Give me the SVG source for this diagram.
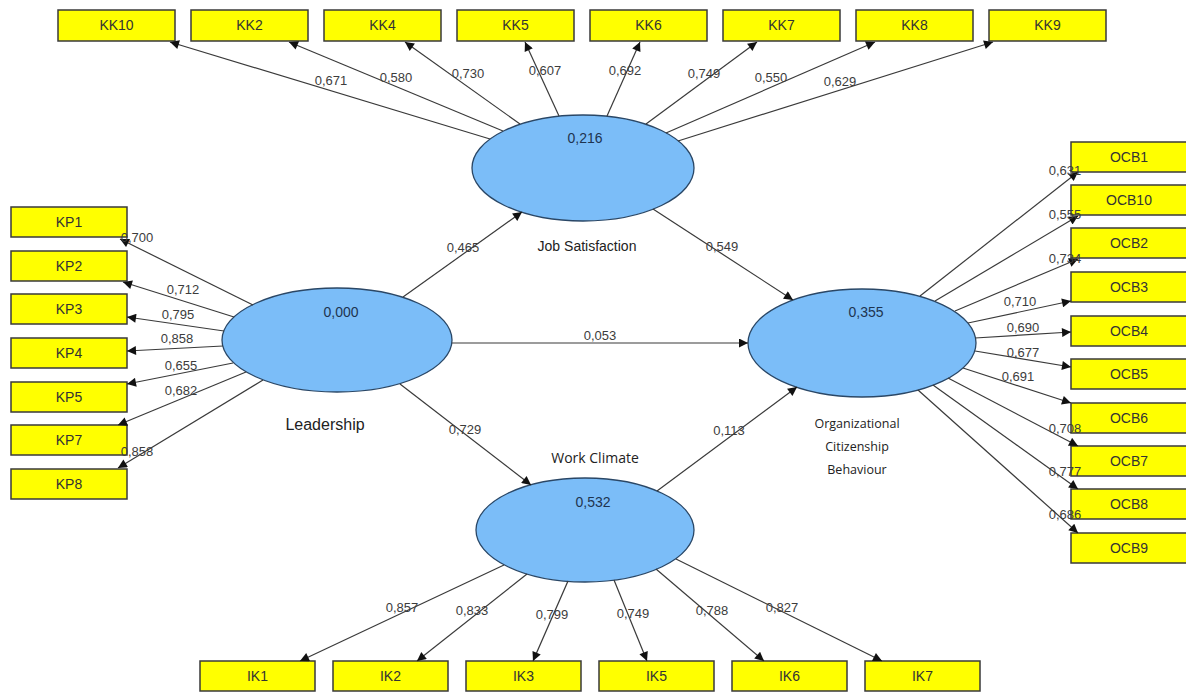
<svg xmlns="http://www.w3.org/2000/svg" width="1186" height="695" viewBox="0 0 1186 695">
<style>
.bg{fill:#ffffff}
.box{fill:#ffff00;stroke:#3a3a3a;stroke-width:1.5}
.bt{font-family:"Liberation Sans",Arial,sans-serif;font-size:14px;fill:#333;text-anchor:middle}
.ell{fill:#7bbdf8;stroke:#2a4766;stroke-width:1.3}
.ev{font-family:"Liberation Sans",Arial,sans-serif;font-size:14px;fill:#1e3450;text-anchor:middle}
.nm{font-family:"Liberation Sans",Arial,sans-serif;font-size:14px;fill:#222;text-anchor:middle}
.nc{font-family:"Open Sans","Liberation Sans",sans-serif;font-size:12.5px;fill:#222;text-anchor:middle}
.lb{font-family:"Liberation Sans",Arial,sans-serif;font-size:13px;fill:#3c3c3c;text-anchor:middle}
.c line{stroke:#3a3a3a;stroke-width:1.2;marker-end:url(#ah)}
</style>
<defs>
<marker id="ah" viewBox="0 0 10 10" refX="10" refY="5" markerWidth="12" markerHeight="9" markerUnits="userSpaceOnUse" orient="auto">
<path d="M0,0 L10,5 L0,10 z" fill="#111"/>
</marker>
</defs>
<rect class="bg" x="0" y="0" width="1186" height="695"/>

<g id="JobSatisfaction">
<ellipse class="ell" cx="583" cy="168" rx="111" ry="53"/>
<text class="ev" x="585" y="143">0,216</text>
<text class="nm" x="587" y="251">Job Satisfaction</text>
</g>
<g id="Leadership">
<ellipse class="ell" cx="337" cy="340" rx="115" ry="52"/>
<text class="ev" x="341" y="317">0,000</text>
<text class="nm" x="325" y="430" style="font-size:16px">Leadership</text>
</g>
<g id="OCB">
<ellipse class="ell" cx="862" cy="343" rx="114" ry="54"/>
<text class="ev" x="866" y="317">0,355</text>
<text class="nc" x="857" y="428">Organizational</text>
<text class="nc" x="857" y="451">Citizenship</text>
<text class="nc" x="857" y="474">Behaviour</text>
</g>
<g id="WorkClimate">
<ellipse class="ell" cx="585" cy="530" rx="109" ry="52"/>
<text class="ev" x="593" y="507">0,532</text>
<text class="nc" x="595" y="463" style="font-size:14px">Work Climate</text>
</g>

<g id="KK10"><rect class="box" x="58" y="10" width="117" height="31"/><text class="bt" x="116.5" y="30">KK10</text></g>
<g id="KK2"><rect class="box" x="191" y="10" width="117" height="31"/><text class="bt" x="249.5" y="30">KK2</text></g>
<g id="KK4"><rect class="box" x="324" y="10" width="117" height="31"/><text class="bt" x="382.5" y="30">KK4</text></g>
<g id="KK5"><rect class="box" x="457" y="10" width="117" height="31"/><text class="bt" x="515.5" y="30">KK5</text></g>
<g id="KK6"><rect class="box" x="590" y="10" width="117" height="31"/><text class="bt" x="648.5" y="30">KK6</text></g>
<g id="KK7"><rect class="box" x="723" y="10" width="117" height="31"/><text class="bt" x="781.5" y="30">KK7</text></g>
<g id="KK8"><rect class="box" x="856" y="10" width="117" height="31"/><text class="bt" x="914.5" y="30">KK8</text></g>
<g id="KK9"><rect class="box" x="989" y="10" width="117" height="31"/><text class="bt" x="1047.5" y="30">KK9</text></g>

<g id="KP1"><rect class="box" x="11" y="207" width="116" height="30"/><text class="bt" x="69" y="227">KP1</text></g>
<g id="KP2"><rect class="box" x="11" y="251" width="116" height="30"/><text class="bt" x="69" y="271">KP2</text></g>
<g id="KP3"><rect class="box" x="11" y="294" width="116" height="30"/><text class="bt" x="69" y="314">KP3</text></g>
<g id="KP4"><rect class="box" x="11" y="338" width="116" height="30"/><text class="bt" x="69" y="358">KP4</text></g>
<g id="KP5"><rect class="box" x="11" y="382" width="116" height="30"/><text class="bt" x="69" y="402">KP5</text></g>
<g id="KP7"><rect class="box" x="11" y="425" width="116" height="30"/><text class="bt" x="69" y="445">KP7</text></g>
<g id="KP8"><rect class="box" x="11" y="469" width="116" height="30"/><text class="bt" x="69" y="489">KP8</text></g>

<g id="OCB1"><rect class="box" x="1071" y="142" width="117" height="30"/><text class="bt" x="1129" y="162">OCB1</text></g>
<g id="OCB10"><rect class="box" x="1071" y="185" width="117" height="30"/><text class="bt" x="1129" y="205">OCB10</text></g>
<g id="OCB2"><rect class="box" x="1071" y="228" width="117" height="30"/><text class="bt" x="1129" y="248">OCB2</text></g>
<g id="OCB3"><rect class="box" x="1071" y="272" width="117" height="30"/><text class="bt" x="1129" y="292">OCB3</text></g>
<g id="OCB4"><rect class="box" x="1071" y="316" width="117" height="30"/><text class="bt" x="1129" y="336">OCB4</text></g>
<g id="OCB5"><rect class="box" x="1071" y="359" width="117" height="30"/><text class="bt" x="1129" y="379">OCB5</text></g>
<g id="OCB6"><rect class="box" x="1071" y="403" width="117" height="30"/><text class="bt" x="1129" y="423">OCB6</text></g>
<g id="OCB7"><rect class="box" x="1071" y="446" width="117" height="30"/><text class="bt" x="1129" y="466">OCB7</text></g>
<g id="OCB8"><rect class="box" x="1071" y="489" width="117" height="30"/><text class="bt" x="1129" y="509">OCB8</text></g>
<g id="OCB9"><rect class="box" x="1071" y="533" width="117" height="30"/><text class="bt" x="1129" y="553">OCB9</text></g>

<g id="IK1"><rect class="box" x="200" y="661" width="115" height="30"/><text class="bt" x="257.5" y="681">IK1</text></g>
<g id="IK2"><rect class="box" x="333" y="661" width="115" height="30"/><text class="bt" x="390.5" y="681">IK2</text></g>
<g id="IK3"><rect class="box" x="466" y="661" width="115" height="30"/><text class="bt" x="523.5" y="681">IK3</text></g>
<g id="IK5"><rect class="box" x="599" y="661" width="115" height="30"/><text class="bt" x="656.5" y="681">IK5</text></g>
<g id="IK6"><rect class="box" x="732" y="661" width="115" height="30"/><text class="bt" x="789.5" y="681">IK6</text></g>
<g id="IK7"><rect class="box" x="865" y="661" width="115" height="30"/><text class="bt" x="922.5" y="681">IK7</text></g>

<g id="connectors" class="c">
<line x1="490" y1="139" x2="170" y2="42"/>
<line x1="503" y1="131" x2="289" y2="42"/>
<line x1="520" y1="124" x2="405" y2="42"/>
<line x1="559" y1="116" x2="525" y2="42"/>
<line x1="607" y1="116" x2="640" y2="42"/>
<line x1="646" y1="124" x2="757" y2="42"/>
<line x1="666" y1="133" x2="875" y2="42"/>
<line x1="678" y1="141" x2="993" y2="42"/>
<line x1="253" y1="305" x2="120" y2="239"/>
<line x1="234" y1="317" x2="123" y2="282"/>
<line x1="224" y1="331" x2="127" y2="317"/>
<line x1="223" y1="346" x2="127" y2="351"/>
<line x1="233" y1="363" x2="127" y2="384"/>
<line x1="246" y1="372" x2="118" y2="425"/>
<line x1="263" y1="380" x2="118" y2="468"/>
<line x1="920" y1="296" x2="1078" y2="172"/>
<line x1="935" y1="301" x2="1078" y2="216"/>
<line x1="955" y1="311" x2="1078" y2="259"/>
<line x1="968" y1="323" x2="1071" y2="301"/>
<line x1="975" y1="338" x2="1071" y2="332"/>
<line x1="975" y1="351" x2="1071" y2="367"/>
<line x1="963" y1="368" x2="1071" y2="403"/>
<line x1="948" y1="378" x2="1078" y2="446"/>
<line x1="933" y1="385" x2="1078" y2="489"/>
<line x1="918" y1="390" x2="1078" y2="533"/>
<line x1="504" y1="565" x2="300" y2="661"/>
<line x1="527" y1="574" x2="417" y2="661"/>
<line x1="568" y1="581" x2="533" y2="661"/>
<line x1="614" y1="580" x2="647" y2="661"/>
<line x1="656" y1="569" x2="764" y2="661"/>
<line x1="676" y1="559" x2="882" y2="661"/>
<line x1="403" y1="297" x2="522" y2="212"/>
<line x1="653" y1="209" x2="793" y2="300"/>
<line x1="452" y1="343" x2="748" y2="343"/>
<line x1="400" y1="384" x2="531" y2="485"/>
<line x1="657" y1="491" x2="797" y2="387"/>
</g>

<g id="loadings">
<text class="lb" x="331" y="85">0,671</text>
<text class="lb" x="396" y="82">0,580</text>
<text class="lb" x="468" y="78">0,730</text>
<text class="lb" x="545" y="75">0,607</text>
<text class="lb" x="625" y="75">0,692</text>
<text class="lb" x="704" y="78">0,749</text>
<text class="lb" x="771" y="82">0,550</text>
<text class="lb" x="840" y="86">0,629</text>
<text class="lb" x="137" y="242">0,700</text>
<text class="lb" x="183" y="294">0,712</text>
<text class="lb" x="178" y="319">0,795</text>
<text class="lb" x="177" y="343">0,858</text>
<text class="lb" x="181" y="370">0,655</text>
<text class="lb" x="181" y="395">0,682</text>
<text class="lb" x="137" y="456">0,858</text>
<text class="lb" x="1065" y="175">0,631</text>
<text class="lb" x="1065" y="219">0,555</text>
<text class="lb" x="1065" y="263">0,734</text>
<text class="lb" x="1020" y="306">0,710</text>
<text class="lb" x="1023" y="332">0,690</text>
<text class="lb" x="1023" y="357">0,677</text>
<text class="lb" x="1018" y="381">0,691</text>
<text class="lb" x="1065" y="433">0,708</text>
<text class="lb" x="1065" y="476">0,777</text>
<text class="lb" x="1065" y="519">0,686</text>
<text class="lb" x="402" y="612">0,857</text>
<text class="lb" x="472" y="615">0,833</text>
<text class="lb" x="552" y="619">0,799</text>
<text class="lb" x="633" y="618">0,749</text>
<text class="lb" x="712" y="615">0,788</text>
<text class="lb" x="782" y="612">0,827</text>
<text class="lb" x="463" y="252">0,465</text>
<text class="lb" x="722" y="251">0,549</text>
<text class="lb" x="600" y="340">0,053</text>
<text class="lb" x="465" y="434">0,729</text>
<text class="lb" x="729" y="435">0,113</text>
</g>
</svg>
